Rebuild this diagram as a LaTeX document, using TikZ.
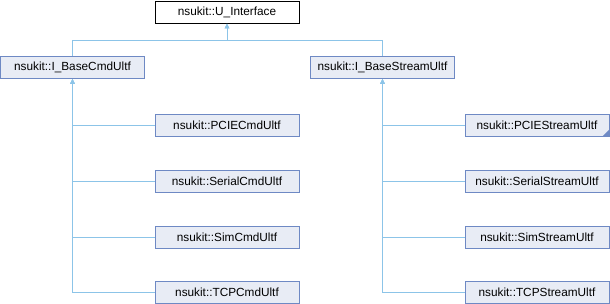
\documentclass[tikz,border=0pt]{standalone}
\usepackage{fontspec}
\setmainfont{Liberation Sans}
\usetikzlibrary{arrows.meta}
\definecolor{edgec}{RGB}{140,196,232}
\definecolor{boxborder}{RGB}{110,137,196}
\definecolor{boxfill}{RGB}{232,236,245}
\begin{document}
\begin{tikzpicture}[x=1pt,y=-1pt,
  cls/.style={draw=boxborder, fill=boxfill, line width=0.9pt, minimum width=144pt, minimum height=22pt, inner sep=0pt, font=\fontsize{11.8}{13}\selectfont},
  rootcls/.style={cls, draw=black, fill=white},
  edge/.style={draw=edgec, line width=0.9pt, {Triangle[width=4.5pt,length=5pt,fill=edgec]}-}]
\useasboundingbox (0,0) rectangle (610,304);
\node[rootcls] (root) at (227,12) {nsukit::U\_Interface};
\node[cls] (cmd) at (72.5,67.5) {nsukit::I\_BaseCmdUltf};
\node[cls] (stream) at (382.5,67.5) {nsukit::I\_BaseStreamUltf};
\node[cls] (pciecmd) at (227,125) {nsukit::PCIECmdUltf};
\node[cls] (serialcmd) at (227,181) {nsukit::SerialCmdUltf};
\node[cls] (simcmd) at (227,237) {nsukit::SimCmdUltf};
\node[cls] (tcpcmd) at (227,292.5) {nsukit::TCPCmdUltf};
\node[cls] (pciestream) at (537,125) {nsukit::PCIEStreamUltf};
\node[cls] (serialstream) at (537,181) {nsukit::SerialStreamUltf};
\node[cls] (simstream) at (537,237) {nsukit::SimStreamUltf};
\node[cls] (tcpstream) at (537,292.5) {nsukit::TCPStreamUltf};
\fill[boxborder] ([xshift=-0.5pt,yshift=0.5pt]pciestream.south east) -- ++(0,-6) -- ++(-6,6) -- cycle;
\coordinate (split) at (227,40);
\draw[edge] (root.south) -- (split) -| (cmd.north);
\draw[edge] (root.south) -- (split) -| (stream.north);
\foreach \c in {pciecmd,serialcmd,simcmd,tcpcmd}
  \draw[edge] (cmd.south) |- (\c.west);
\foreach \c in {pciestream,serialstream,simstream,tcpstream}
  \draw[edge] (stream.south) |- (\c.west);
\end{tikzpicture}
\end{document}
